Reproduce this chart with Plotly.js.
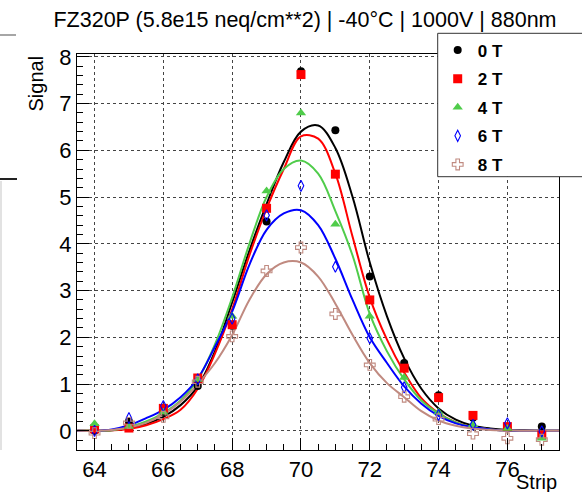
<!DOCTYPE html>
<html>
<head>
<meta charset="utf-8">
<script src="https://cdn.plot.ly/plotly-3.0.1.min.js"></script>
<style>html,body{margin:0;padding:0;background:#fff;}#chart{width:582px;height:492px;}</style>
</head>
<body>
<div id="chart"></div>
<script>
// Measured points (strip number vs signal)
const strips = [64, 65, 66, 67, 68, 69, 70, 71, 72, 73, 74, 75, 76, 77];
const sig0T = [0.00, 0.20, 0.41, 0.96, 2.25, 4.48, 7.69, 6.43, 3.30, 1.45, 0.76, 0.28, 0.08, 0.09];
const sig2T = [0.04, 0.06, 0.48, 1.13, 2.27, 4.76, 7.62, 5.49, 2.80, 1.34, 0.71, 0.33, 0.09, -0.09];
const sig4T = [0.15, 0.09, 0.40, 1.10, 2.45, 5.13, 6.80, 4.42, 2.45, 1.14, 0.40, 0.13, 0.05, -0.16];
const sig6T = [0.00, 0.27, 0.53, 1.10, 2.40, 4.61, 5.24, 3.51, 1.98, 0.93, 0.34, 0.13, 0.16, -0.01];
const sig8T = [-0.05, 0.17, 0.30, 1.05, 2.02, 3.42, 3.92, 2.50, 1.41, 0.73, 0.25, -0.06, -0.16, -0.19];

// Fit curves
const fitX = [63.5, 64, 64.5, 65, 65.5, 66, 66.5, 67, 67.5, 68, 68.5, 69, 69.5, 70, 70.5, 71, 71.5, 72, 72.5, 73, 73.5, 74, 74.5, 75, 75.5, 76, 76.5, 77, 77.5];
const fit0T = [0, 0, 0.01, 0.06, 0.15, 0.30, 0.55, 0.95, 1.70, 2.75, 3.85, 4.85, 5.75, 6.40, 6.53, 6.05, 5.00, 3.60, 2.45, 1.55, 0.90, 0.48, 0.24, 0.11, 0.05, 0.02, 0.01, 0, 0];
const fit2T = [0, 0, 0.01, 0.04, 0.12, 0.25, 0.45, 0.90, 1.65, 2.60, 3.75, 4.75, 5.60, 6.30, 6.25, 5.50, 4.15, 2.85, 1.95, 1.25, 0.70, 0.38, 0.18, 0.08, 0.03, 0.01, 0, 0, 0];
const fit4T = [0, 0, 0.01, 0.08, 0.20, 0.38, 0.65, 1.10, 1.85, 2.85, 4.00, 5.00, 5.60, 5.78, 5.50, 4.70, 3.75, 2.50, 1.70, 1.10, 0.65, 0.37, 0.18, 0.08, 0.03, 0.01, 0, 0, 0];
const fit6T = [0, 0, 0.03, 0.12, 0.27, 0.45, 0.72, 1.12, 1.80, 2.55, 3.55, 4.30, 4.65, 4.72, 4.40, 3.68, 2.80, 2.00, 1.45, 0.95, 0.58, 0.32, 0.16, 0.08, 0.03, 0.01, 0, 0, 0];
const fit8T = [0, 0, 0.02, 0.07, 0.17, 0.35, 0.62, 1.00, 1.45, 2.05, 2.80, 3.35, 3.60, 3.60, 3.30, 2.72, 2.05, 1.45, 1.02, 0.72, 0.42, 0.22, 0.11, 0.05, 0.02, 0.01, 0, 0, 0];

const seriesNames = ['0 T', '2 T', '4 T', '6 T', '8 T'];
const pointSets = [sig0T, sig2T, sig4T, sig6T, sig8T];
const fitSets = [fit0T, fit2T, fit4T, fit6T, fit8T];
const colors = ['#000000', '#ff0000', '#4fcc4a', '#0000ff', '#c08a80'];
const symbols = ['circle', 'square', 'triangle-up', 'diamond-tall-open', 'cross-open'];
const sizes = [8, 9, 9, 8, 9];

const FONT = 'Liberation Sans, Arial, Helvetica, sans-serif';
const traces = [];
fitSets.forEach((f, i) => {
  traces.push({
    x: fitX, y: f, mode: 'lines', type: 'scatter', showlegend: false,
    line: {color: colors[i], width: 2, shape: 'spline', smoothing: 1},
    hoverinfo: 'skip'
  });
});
pointSets.forEach((p, i) => {
  traces.push({
    x: strips, y: p, mode: 'markers', type: 'scatter', name: seriesNames[i],
    legendgroup: 'g' + i,
    marker: {color: colors[i], symbol: symbols[i], size: sizes[i], line: {color: colors[i], width: (i >= 3 ? 1.1 : 0)}}
  });
});

// plot area: x 77..559, y 54..450
const L = 77, R = 559, T = 54, B = 450;
const px = v => (v - L) / (R - L);
const py = v => (B - v) / (B - T);

const layout = {
  width: 582, height: 492,
  margin: {l: L, r: 582 - R, t: T, b: 492 - B, autoexpand: false},
  paper_bgcolor: '#fff', plot_bgcolor: '#fff',
  font: {family: FONT, color: '#000'},
  title: {text: 'FZ320P (5.8e15 neq/cm**2) | -40°C | 1000V | 880nm', font: {family: FONT, size: 21.5, color: '#000'},
          x: px(305), xref: 'paper', xanchor: 'center', y: 1 - 19 / 492, yanchor: 'middle'},
  xaxis: {
    range: [63.49, 77.5], dtick: 2, tick0: 64,
    ticks: 'inside', ticklen: 12, tickwidth: 1, tickcolor: '#000',
    minor: {dtick: 0.5, ticks: 'inside', ticklen: 6, tickcolor: '#000', showgrid: false},
    showgrid: true, gridcolor: '#444', griddash: 'dot', gridwidth: 1,
    zeroline: false, showline: true, linecolor: '#000', linewidth: 1, mirror: true,
    tickfont: {family: FONT, size: 22, color: '#000'}
  },
  yaxis: {
    range: [-0.41, 8.06], dtick: 1, tick0: 0,
    ticks: 'inside', ticklen: 12, tickwidth: 1, tickcolor: '#000',
    minor: {dtick: 0.2, ticks: 'inside', ticklen: 6, tickcolor: '#000', showgrid: false},
    showgrid: true, gridcolor: '#444', griddash: 'dot', gridwidth: 1,
    zeroline: false, showline: true, linecolor: '#000', linewidth: 1, mirror: true,
    tickfont: {family: FONT, size: 22, color: '#000'}
  },
  legend: {
    x: px(437.7), y: py(32.5), xanchor: 'left', yanchor: 'top',
    bgcolor: 'rgba(0,0,0,0)', borderwidth: 0,
    font: {family: FONT, size: 17, color: '#000', weight: 700},
    tracegroupgap: 3.5, itemclick: false, itemdoubleclick: false
  },
  annotations: [
    {text: 'Signal', xref: 'paper', yref: 'paper', x: px(35), y: py(83.5), xanchor: 'center', yanchor: 'middle',
     textangle: -90, showarrow: false, font: {family: FONT, size: 20, color: '#000'}},
    {text: 'Strip', xref: 'paper', yref: 'paper', x: 1, y: py(482), xanchor: 'right', yanchor: 'middle',
     showarrow: false, font: {family: FONT, size: 20, color: '#000'}}
  ],
  shapes: [
    {type: 'rect', layer: 'above', xref: 'paper', yref: 'paper', x0: px(437.7), x1: px(600), y0: py(33.3), y1: py(176.7),
     fillcolor: '#fff', line: {color: '#333', width: 1}},
    {type: 'line', xref: 'paper', yref: 'paper', x0: px(0), x1: px(16), y0: py(35), y1: py(35), line: {color: '#888', width: 1.5}},
    {type: 'line', xref: 'paper', yref: 'paper', x0: px(0), x1: px(17), y0: py(179), y1: py(179), line: {color: '#222', width: 2}},
    {type: 'line', xref: 'paper', yref: 'paper', x0: px(1), x1: px(1), y0: py(181), y1: py(450), line: {color: '#e2e2e2', width: 2}}
  ]
};

Plotly.newPlot('chart', traces, layout, {displayModeBar: false, staticPlot: true});
</script>
</body>
</html>
